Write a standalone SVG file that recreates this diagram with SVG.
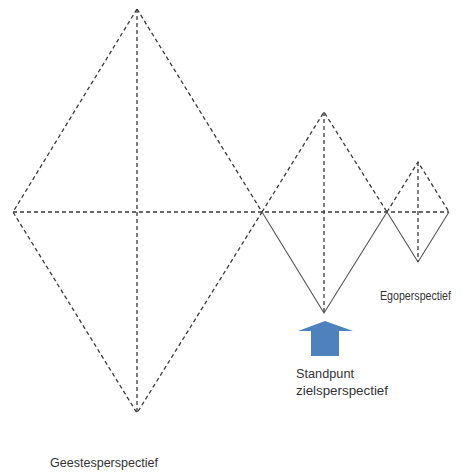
<svg xmlns="http://www.w3.org/2000/svg" width="461" height="475" viewBox="0 0 461 475">
<style>
.d{fill:none;stroke:#3a3a3a;stroke-width:1.3;stroke-dasharray:4 3}
.s{fill:none;stroke:#555;stroke-width:1.1}
.t{font-family:"Liberation Sans",Arial,sans-serif;font-size:12px;fill:#333}
</style>
<rect width="461" height="475" fill="#fff"/>
<g id="connectors">
<line class="d" x1="13" y1="212" x2="449" y2="212"/>
</g>
<g id="big-diamond">
<polygon class="d" points="137,9 262,212 137,413 13,212"/>
<line class="d" x1="137" y1="9" x2="137" y2="413"/>
</g>
<g id="medium-diamond">
<polyline class="d" points="262,212 324,112 387,212"/>
<polyline class="s" points="262,212 324,313 387,212"/>
<line class="d" x1="324" y1="112" x2="324" y2="313"/>
</g>
<g id="small-diamond">
<polyline class="d" points="387,212 418,162 449,212"/>
<polyline class="s" points="387,212 418,262 449,212"/>
<line class="d" x1="418" y1="162" x2="418" y2="262"/>
</g>
<g id="arrow">
<polygon points="325,321 353,331 339,331 339,356 311,356 311,331 298,331" fill="#4f81bd"/>
</g>
<g id="labels">
<text class="t" x="380" y="300" textLength="71" lengthAdjust="spacingAndGlyphs">Egoperspectief</text>
<text class="t" x="296" y="378" textLength="58" lengthAdjust="spacingAndGlyphs">Standpunt</text>
<text class="t" x="296" y="395" textLength="92" lengthAdjust="spacingAndGlyphs">zielsperspectief</text>
<text class="t" x="50" y="467" textLength="108" lengthAdjust="spacingAndGlyphs">Geestesperspectief</text>
</g>
</svg>
